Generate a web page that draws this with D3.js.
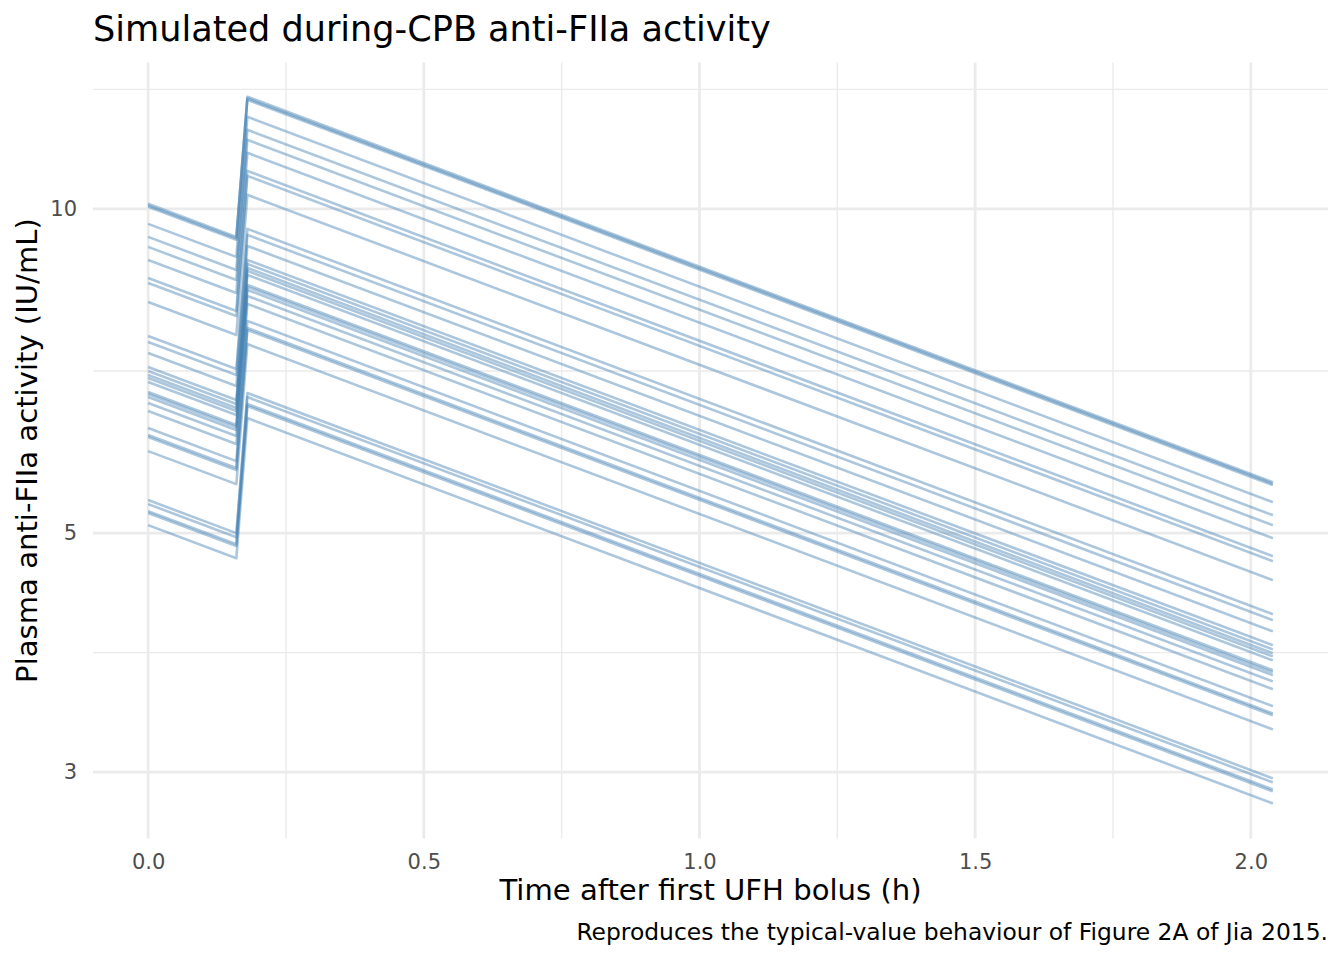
<!DOCTYPE html>
<html>
<head>
<meta charset="utf-8">
<script src="https://cdn.jsdelivr.net/npm/d3@7"></script>
<style>
  html, body { margin: 0; padding: 0; background: #ffffff; }
  svg { display: block; font-family: "DejaVu Sans", sans-serif; }
</style>
</head>
<body>
<svg id="chart" width="1344" height="960"></svg>
<script>
// ---- data ----
const times = [0, 0.16, 0.18, 2.04];           // h: start, before CPB bolus, after CPB bolus, end
const c0 = [10.108, 10.075, 10.043, 9.684, 9.418, 9.219, 8.966, 8.627, 8.535, 8.196,
            7.621, 7.524, 7.348, 7.132, 7.071, 7.010, 6.966, 6.906, 6.761, 6.732, 6.689, 6.603, 6.492, 6.259, 6.166, 6.140, 5.958,
            5.366, 5.320, 5.241, 5.219, 5.086];
const cPre = [9.419, 9.388, 9.358, 9.024, 8.776, 8.590, 8.355, 8.039, 7.953, 7.637,
              7.101, 7.011, 6.847, 6.646, 6.589, 6.532, 6.491, 6.435, 6.300, 6.273, 6.233, 6.153, 6.049, 5.832, 5.746, 5.721, 5.552,
              5.000, 4.957, 4.884, 4.863, 4.739];
const cPeak = [12.708, 12.666, 12.626, 12.175, 11.840, 11.590, 11.272, 10.846, 10.730, 10.304,
               9.581, 9.459, 9.238, 8.966, 8.890, 8.813, 8.758, 8.682, 8.500, 8.464, 8.409, 8.301, 8.162, 7.869, 7.752, 7.719, 7.490,
               6.746, 6.688, 6.589, 6.561, 6.394];
const cEnd = [5.576, 5.557, 5.540, 5.342, 5.195, 5.085, 4.946, 4.759, 4.708, 4.521,
              4.204, 4.150, 4.053, 3.934, 3.900, 3.867, 3.842, 3.809, 3.729, 3.713, 3.690, 3.642, 3.581, 3.453, 3.401, 3.387, 3.286,
              2.960, 2.935, 2.891, 2.879, 2.805];
const xTicks = [0, 0.5, 1.0, 1.5, 2.0];
const xMinor = [0.25, 0.75, 1.25, 1.75];
const yTicks = [3, 5, 10];
const yMinor = [3.873, 7.071, 12.91];

const titleText = "Simulated during-CPB anti-FIIa activity";
const xTitle = "Time after first UFH bolus (h)";
const yTitle = "Plasma anti-FIIa activity (IU/mL)";
const captionText = "Reproduces the typical-value behaviour of Figure 2A of Jia 2015.";

// ---- layout ----
const panel = { left: 93, right: 1328, top: 62.6, bottom: 838.5 };
const svg = d3.select("#chart");

const x = d3.scaleLinear().domain([-0.1, 2.14]).range([panel.left, panel.right]);
const y = d3.scaleLog().domain([2.603, 13.67]).range([panel.bottom, panel.top]);

const grid = svg.append("g");
grid.selectAll("line.ymin").data(yMinor).enter().append("line")
  .attr("x1", panel.left).attr("x2", panel.right)
  .attr("y1", d => y(d)).attr("y2", d => y(d))
  .attr("stroke", "#EBEBEB").attr("stroke-width", 1.4);
grid.selectAll("line.xmin").data(xMinor).enter().append("line")
  .attr("y1", panel.top).attr("y2", panel.bottom)
  .attr("x1", d => x(d)).attr("x2", d => x(d))
  .attr("stroke", "#EBEBEB").attr("stroke-width", 1.4);
grid.selectAll("line.ymaj").data(yTicks).enter().append("line")
  .attr("x1", panel.left).attr("x2", panel.right)
  .attr("y1", d => y(d)).attr("y2", d => y(d))
  .attr("stroke", "#EBEBEB").attr("stroke-width", 2.8);
grid.selectAll("line.xmaj").data(xTicks).enter().append("line")
  .attr("y1", panel.top).attr("y2", panel.bottom)
  .attr("x1", d => x(d)).attr("x2", d => x(d))
  .attr("stroke", "#EBEBEB").attr("stroke-width", 2.8);

// ---- lines ----
const series = c0.map((v, i) => [v, cPre[i], cPeak[i], cEnd[i]].map((c, j) => ({ t: times[j], c })));
const line = d3.line().x(d => x(d.t)).y(d => y(d.c));
svg.append("g").selectAll("path").data(series).enter().append("path")
  .attr("d", line)
  .attr("fill", "none")
  .attr("stroke", "steelblue")
  .attr("stroke-opacity", 0.45)
  .attr("stroke-width", 2.6)
  .attr("stroke-linejoin", "round");

// ---- axes ----
const xAxis = svg.append("g").attr("transform", `translate(0,${panel.bottom})`)
  .call(d3.axisBottom(x).tickValues(xTicks).tickFormat(d3.format(".1f")).tickSize(0).tickPadding(16));
const yAxis = svg.append("g").attr("transform", `translate(${panel.left},0)`)
  .call(d3.axisLeft(y).tickValues(yTicks).tickFormat(d3.format("d")).tickSize(0).tickPadding(16));
[xAxis, yAxis].forEach(a => {
  a.select(".domain").remove();
  a.attr("font-size", null).attr("font-family", null);
  a.selectAll("text").attr("fill", "#4D4D4D").style("font-size", "21px").style("font-family", "DejaVu Sans, sans-serif");
});

// ---- texts ----
svg.append("text").attr("x", 93).attr("y", 41)
  .attr("fill", "#000").style("font-size", "35.1px").text(titleText);
svg.append("text").attr("x", (panel.left + panel.right) / 2).attr("y", 900)
  .attr("text-anchor", "middle").attr("fill", "#000").style("font-size", "29.1px").text(xTitle);
svg.append("text").attr("transform", `translate(37,${(panel.top + panel.bottom) / 2}) rotate(-90)`)
  .attr("text-anchor", "middle").attr("fill", "#000").style("font-size", "29.1px").text(yTitle);
svg.append("text").attr("x", 1328).attr("y", 940)
  .attr("text-anchor", "end").attr("fill", "#000").style("font-size", "23.4px").text(captionText);
</script>
</body>
</html>
